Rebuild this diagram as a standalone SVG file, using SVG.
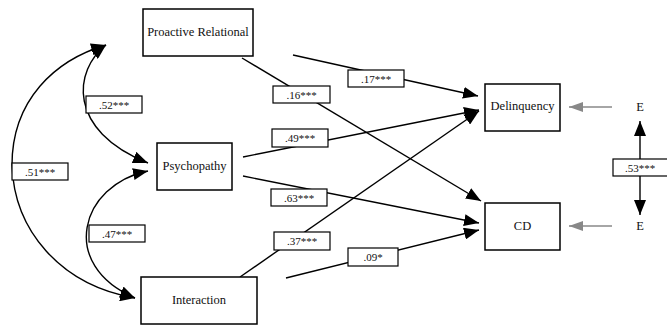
<svg xmlns="http://www.w3.org/2000/svg" width="667" height="327" viewBox="0 0 667 327">
<style>
.node{fill:#fff;stroke:#000;stroke-width:1.5}
.nt{font-family:"Liberation Serif","Times New Roman",serif;font-size:12.5px;fill:#111;text-anchor:middle;dominant-baseline:central}
.lb{fill:#fff;stroke:#000;stroke-width:1.2}
.lt{font-family:"Liberation Serif","Times New Roman",serif;font-size:11px;fill:#111;text-anchor:middle;dominant-baseline:central}
.ln{fill:none;stroke:#000;stroke-width:1.4}
.gl{fill:none;stroke:#888;stroke-width:1.6}
</style>
<defs>
<marker id="ah" markerUnits="userSpaceOnUse" markerWidth="15" markerHeight="12" refX="15" refY="6" orient="auto-start-reverse">
<path d="M0,0 L15,6 L0,12 Z" fill="#000"/>
</marker>
<marker id="gh" markerUnits="userSpaceOnUse" markerWidth="14" markerHeight="10" refX="14" refY="5" orient="auto">
<path d="M0,0 L14,5 L0,10 Z" fill="#888"/>
</marker>
</defs>
<g id="connectors">
<path class="ln" d="M106,45 C55,60 12,100 12,165 C14,230 60,285 135,298" marker-start="url(#ah)" marker-end="url(#ah)"/>
<path class="ln" d="M106,45 C74,70 66,130 148,163" marker-start="url(#ah)" marker-end="url(#ah)"/>
<path class="ln" d="M148,171 C80,185 58,265 135,298" marker-start="url(#ah)" marker-end="url(#ah)"/>
<line class="ln" x1="293" y1="55" x2="478" y2="96" marker-end="url(#ah)"/>
<line class="ln" x1="242" y1="58" x2="481" y2="201" marker-end="url(#ah)"/>
<line class="ln" x1="243" y1="157" x2="479" y2="110" marker-end="url(#ah)"/>
<line class="ln" x1="243" y1="176" x2="479" y2="223" marker-end="url(#ah)"/>
<line class="ln" x1="240" y1="277" x2="479" y2="111" marker-end="url(#ah)"/>
<line class="ln" x1="286" y1="278" x2="479" y2="230" marker-end="url(#ah)"/>
<line class="gl" x1="612" y1="107" x2="569" y2="107" marker-end="url(#gh)"/>
<line class="gl" x1="612" y1="226" x2="569" y2="226" marker-end="url(#gh)"/>
<line class="ln" x1="640" y1="168" x2="640" y2="121" marker-end="url(#ah)"/>
<line class="ln" x1="640" y1="168" x2="640" y2="215" marker-end="url(#ah)"/>
</g>
<g id="labels">
<rect class="lb" x="12" y="163" width="56" height="17"/><text class="lt" x="40" y="171.5">.51***</text>
<rect class="lb" x="86" y="96" width="56" height="17"/><text class="lt" x="114" y="104.5">.52***</text>
<rect class="lb" x="89" y="225" width="56" height="17"/><text class="lt" x="117" y="233.5">.47***</text>
<rect class="lb" x="348" y="70" width="56" height="17"/><text class="lt" x="376" y="78.5">.17***</text>
<rect class="lb" x="273" y="86" width="57" height="17"/><text class="lt" x="301.5" y="94.5">.16***</text>
<rect class="lb" x="272" y="129" width="56" height="18"/><text class="lt" x="300" y="138">.49***</text>
<rect class="lb" x="271" y="189" width="56" height="17"/><text class="lt" x="299" y="197.5">.63***</text>
<rect class="lb" x="274" y="232" width="56" height="18"/><text class="lt" x="302" y="241">.37***</text>
<rect class="lb" x="348" y="248" width="50" height="18"/><text class="lt" x="373" y="257">.09*</text>
<rect class="lb" x="613" y="159" width="56" height="17"/><text class="lt" x="640" y="167.5">.53***</text>
</g>
<g id="n-proactive"><rect class="node" x="143" y="9" width="110" height="47"/><text class="nt" x="198" y="32">Proactive Relational</text></g>
<g id="n-psychopathy"><rect class="node" x="157" y="143" width="75" height="47"/><text class="nt" x="194.5" y="166">Psychopathy</text></g>
<g id="n-interaction"><rect class="node" x="141" y="277" width="116" height="47"/><text class="nt" x="199" y="299.5">Interaction</text></g>
<g id="n-delinquency"><rect class="node" x="485" y="84" width="75" height="47"/><text class="nt" x="522.5" y="106">Delinquency</text></g>
<g id="n-cd"><rect class="node" x="485" y="203" width="75" height="47"/><text class="nt" x="522.5" y="225.5">CD</text></g>
<g id="n-e1"><text class="nt" x="640" y="107">E</text></g>
<g id="n-e2"><text class="nt" x="640" y="226">E</text></g>
</svg>
